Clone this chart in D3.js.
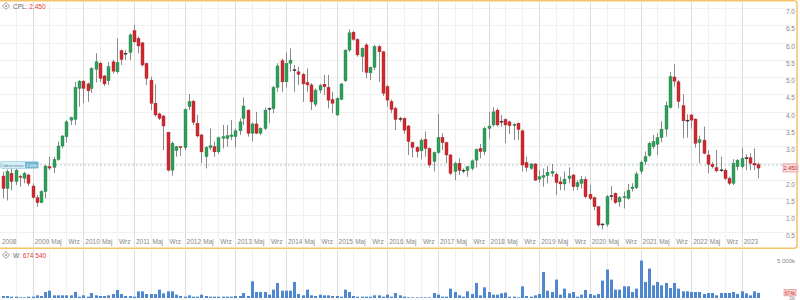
<!DOCTYPE html>
<html>
<head>
<meta charset="utf-8">
<script src="https://cdn.jsdelivr.net/npm/d3@7"></script>
<style>
  body { margin: 0; background: #fff; }
  svg { display: block; font-family: "Liberation Sans", Arial, sans-serif; }
</style>
</head>
<body>
<script>
const Width = 800;
const Height = 300;

// monthly candles, Jun 2008 .. May 2023
const startMonth = new Date(2008, 5, 1);
const opens = [2.13,1.77,2.21,1.97,2.12,2.06,2.16,1.84,1.50,1.36,1.68,2.40,2.38,2.61,3.00,3.27,3.75,3.77,4.67,4.88,
  4.80,4.67,5.22,5.40,5.03,4.89,5.44,5.15,5.76,5.68,5.71,6.34,6.12,5.99,5.39,4.91,4.24,3.93,3.87,3.40,
  2.30,2.87,2.98,2.95,4.14,4.30,3.66,3.32,2.69,2.95,2.98,2.83,3.22,3.22,3.27,3.27,3.44,3.80,4.04,3.37,
  3.64,3.37,3.51,4.08,4.08,4.70,5.47,4.86,5.40,5.20,5.15,5.08,4.84,4.77,4.21,4.62,4.79,4.70,4.35,3.90,
  4.35,4.89,5.78,6.30,6.09,5.59,5.93,5.12,5.28,5.88,5.73,4.72,4.29,4.09,3.80,3.80,3.58,3.10,2.96,2.86,
  3.19,2.93,2.55,2.81,3.25,3.10,2.74,2.26,2.50,2.29,2.29,2.35,2.59,2.93,2.84,3.51,3.61,4.04,3.72,3.77,
  3.70,3.59,3.66,3.44,2.52,2.35,2.48,2.04,2.09,2.14,2.21,2.18,1.96,1.90,2.06,2.16,1.82,1.92,2.03,1.60,
  1.50,1.24,0.73,0.73,1.55,1.63,1.38,1.50,1.48,1.76,1.79,2.27,2.55,2.72,2.98,3.05,3.24,3.49,4.11,5.00,
  4.86,4.17,3.74,3.90,3.78,3.10,3.17,2.74,2.47,2.37,2.30,2.30,2.06,1.92,2.40,2.40,2.65,2.66,2.50,2.46];
const highs = [2.25,2.32,2.35,2.35,2.16,2.25,2.19,1.92,1.58,1.72,2.45,2.69,2.69,3.13,3.32,3.75,3.85,4.86,4.91,4.91,
  4.84,5.28,5.69,5.44,5.06,5.44,5.49,6.12,5.80,5.78,6.27,6.51,6.17,6.02,5.42,5.01,4.79,3.97,3.90,3.41,
  3.13,3.00,3.00,4.09,4.51,4.33,3.90,3.35,3.00,3.51,3.13,3.27,3.61,3.61,3.75,3.51,3.80,4.41,4.06,3.68,
  3.99,3.54,4.12,4.12,4.74,5.40,5.54,5.71,5.83,5.35,5.30,5.12,5.25,4.82,4.67,4.80,5.06,5.06,4.57,4.41,
  4.82,5.80,6.38,6.34,6.12,5.86,5.98,5.30,5.93,5.93,5.76,4.77,4.35,4.14,3.85,3.83,3.61,3.13,3.00,3.22,
  3.42,2.96,2.84,3.93,3.37,3.13,2.77,2.55,2.64,2.35,2.42,2.61,2.93,3.06,3.56,3.99,4.12,4.09,3.90,3.80,
  3.73,3.66,3.68,3.48,2.69,2.50,2.50,2.30,2.35,2.42,2.48,2.23,2.11,2.26,2.38,2.18,2.01,2.13,2.11,1.87,
  1.53,1.26,0.76,1.58,1.84,1.65,1.55,1.68,1.90,1.92,2.26,2.57,2.84,3.13,3.32,3.37,3.72,4.29,5.15,5.37,
  4.91,4.50,3.92,3.92,3.80,3.30,3.56,2.88,2.53,2.88,2.69,2.35,2.11,2.62,2.62,2.95,2.76,2.79,2.93,2.52];
const lows = [1.48,1.42,1.72,1.87,1.82,1.92,1.84,1.48,1.24,1.34,1.48,2.30,2.21,2.57,2.93,3.10,3.61,3.61,4.14,4.24,
  4.28,4.54,4.84,4.86,4.74,4.77,5.10,5.10,5.35,5.49,5.49,5.98,5.69,5.30,4.77,4.04,3.85,3.75,2.88,2.26,
  2.14,2.69,2.71,2.88,4.04,3.61,3.25,2.50,2.35,2.88,2.69,2.77,2.93,2.98,3.17,2.96,3.32,3.61,3.27,3.13,
  3.35,3.32,3.46,3.66,3.95,4.57,4.57,4.70,5.15,4.57,4.77,4.28,4.57,4.04,4.14,4.53,4.48,4.09,3.95,3.87,
  4.33,4.86,5.73,6.05,5.59,5.15,4.96,4.91,5.20,4.86,4.45,4.14,3.95,3.46,3.70,3.35,2.74,2.67,2.67,2.61,
  2.69,2.38,2.26,2.77,2.88,2.50,2.16,2.01,2.16,2.21,2.11,2.29,2.38,2.64,2.74,3.22,3.56,3.56,3.56,3.08,
  3.35,3.17,3.17,2.26,2.26,2.31,1.99,1.94,1.82,1.92,2.11,1.58,1.72,1.71,1.92,1.71,1.72,1.77,1.48,1.43,
  1.14,0.66,0.58,0.66,1.43,1.32,1.24,1.19,1.45,1.68,1.75,2.18,2.45,2.69,2.91,2.74,3.11,3.27,4.09,4.72,
  4.09,3.22,3.24,3.51,2.95,2.50,2.76,2.21,2.35,2.24,2.25,2.01,1.87,1.87,2.30,2.35,2.30,2.30,2.30,2.06];
const closes = [1.77,2.26,1.97,2.30,2.10,2.21,1.92,1.51,1.36,1.68,2.42,2.36,2.61,3.00,3.29,3.70,3.82,4.70,4.88,4.67,
  4.60,5.25,5.44,4.96,4.80,5.30,5.17,5.42,5.51,5.69,6.22,6.02,5.90,5.35,4.96,4.24,3.90,3.80,3.58,2.30,
  3.08,2.98,2.95,4.06,4.29,3.69,3.29,2.83,2.96,3.01,2.83,3.24,3.27,3.30,3.32,3.44,3.70,4.16,3.37,3.64,
  3.37,3.51,4.04,4.09,4.70,5.32,4.86,5.40,5.49,5.21,5.08,4.80,4.77,4.28,4.62,4.75,4.72,4.33,4.24,4.38,
  4.80,5.78,6.28,6.09,5.64,5.83,5.13,5.28,5.88,5.73,4.53,4.33,4.06,3.77,3.79,3.46,3.13,2.96,2.84,3.17,
  2.93,2.45,2.81,3.25,3.10,2.74,2.21,2.50,2.29,2.30,2.40,2.57,2.90,2.84,3.51,3.58,3.99,3.61,3.71,3.61,
  3.59,3.63,3.48,2.45,2.38,2.48,2.01,2.11,2.14,2.24,2.26,1.94,1.90,2.04,2.13,1.82,1.94,2.03,1.53,1.48,
  1.24,0.71,0.74,1.53,1.56,1.36,1.51,1.53,1.72,1.81,2.19,2.53,2.69,3.08,3.13,3.24,3.49,4.17,5.01,4.88,
  4.29,3.73,3.75,3.75,3.08,3.18,2.79,2.47,2.40,2.28,2.31,2.06,1.92,2.50,2.59,2.64,2.66,2.50,2.45,2.36];
// volume in thousands
const volumes = [264,264,176,176,88,88,176,176,352,264,792,968,352,352,352,352,352,792,176,352,
  176,660,352,264,264,352,528,1056,528,264,264,176,880,880,528,528,528,1100,616,880,
  880,440,264,176,352,176,176,440,264,176,176,176,176,176,176,264,264,660,264,2200,
  792,792,792,440,1100,1980,968,968,968,2112,528,352,1100,352,264,440,352,352,264,264,
  176,1100,792,264,176,176,176,176,352,352,176,440,176,660,352,
  176,88,88,88,88,88,88,660,440,176,176,1232,792,352,176,880,528,1980,352,1408,
  792,440,440,616,704,176,176,88,1540,264,176,352,528,3432,968,792,2420,440,1232,616,
  792,176,440,1056,528,352,528,2288,3740,2420,1100,1100,1540,1540,792,1232,4928,2112,3872,1672,
  2112,1672,1980,1320,1980,1232,880,880,792,792,792,528,660,660,352,660,660,660,792,528,
  880,616,352,880,675];

const priceTicks = [0.5,1.0,1.5,2.0,3.0,3.5,4.0,4.5,5.0,5.5,6.0,6.5,7.0];
const gridTicks = [0.5,1.0,1.5,2.0,2.5,3.0,3.5,4.0,4.5,5.0,5.5,6.0,6.5,7.0];
const monthNames = {4: "Maj", 8: "Wrz"};
const lastPrice = 2.45;
const refPrice = 2.55;
const lastVolume = 674540;

const data = opens.map((o, i) => ({
  date: d3.timeMonth.offset(startMonth, i),
  open: o, high: highs[i], low: lows[i], close: closes[i], vol: volumes[i]
}));

const svg = d3.select('body').append('svg')
  .attr('width', Width).attr('height', Height);

const x = d3.scaleTime()
  .domain([data[0].date, data[data.length - 1].date])
  .range([3, 758.4]);

const y = d3.scaleLinear().domain([0.5, 7.0]).range([232.25, 8]);
const yv = d3.scaleLinear().domain([0, 5000]).range([298, 260]);

const gridDates = d3.timeMonth.every(4).range(new Date(2008, 8, 1), new Date(2023, 1, 1));

// horizontal grid
svg.append('g').selectAll('line').data(gridTicks).join('line')
  .attr('x1', 0).attr('x2', 797)
  .attr('y1', d => Math.round(y(d)) + 0.5).attr('y2', d => Math.round(y(d)) + 0.5)
  .attr('stroke', '#f1f1f1');

// vertical grid, main and volume panels
[[2, 247], [250, 299]].forEach(([y0, y1]) => {
  svg.append('g').selectAll('line').data(gridDates).join('line')
    .attr('x1', d => Math.round(x(d)) + 0.5).attr('x2', d => Math.round(x(d)) + 0.5)
    .attr('y1', y0).attr('y2', y1)
    .attr('stroke', d => d.getMonth() === 0 ? '#dcdcdc' : '#f0f0f0');
});

// reference dashed line
svg.append('line')
  .attr('x1', 40).attr('x2', 783)
  .attr('y1', y(lastPrice)).attr('y2', y(lastPrice))
  .attr('stroke', '#9ab7c4').attr('stroke-dasharray', '2,2').attr('stroke-width', 0.8);

// candles
const bw = 3;
const candle = svg.append('g').selectAll('g').data(data).join('g');
const colorOf = d => Math.abs(d.close - d.open) < 0.02 ? '#333' : (d.close >= d.open ? '#2f9e5c' : '#d0282e');
candle.append('line')
  .attr('x1', d => Math.round(x(d.date)) + 0.5).attr('x2', d => Math.round(x(d.date)) + 0.5)
  .attr('y1', d => y(d.high)).attr('y2', d => y(d.low))
  .attr('stroke', '#8a8a8a').attr('stroke-width', 1);
candle.append('rect')
  .attr('x', d => Math.round(x(d.date)) - 1)
  .attr('width', bw)
  .attr('y', d => y(Math.max(d.open, d.close)))
  .attr('height', d => Math.max(1, Math.abs(y(d.open) - y(d.close))))
  .attr('fill', colorOf)
  .attr('stroke', d => d3.color(colorOf(d)).darker(0.6)).attr('stroke-width', 0.4);

// volume bars
svg.append('g').selectAll('rect').data(data).join('rect')
  .attr('x', d => Math.round(x(d.date)) - 1)
  .attr('width', 3)
  .attr('y', d => yv(d.vol))
  .attr('height', d => yv(0) - yv(d.vol))
  .attr('fill', '#5088d0');

// main panel frame
svg.append('rect')
  .attr('x', -3).attr('y', 0.75).attr('width', 800).attr('height', 247.5)
  .attr('rx', 3).attr('fill', 'none')
  .attr('stroke', '#f4c36a').attr('stroke-width', 1.5);

// price axis labels
svg.append('g').selectAll('text').data(priceTicks).join('text')
  .attr('x', 795).attr('y', d => y(d) + 6)
  .attr('text-anchor', 'end').attr('font-size', 6.5).attr('fill', '#888')
  .text(d => d.toFixed(1));

// time axis labels (Sep 2008 is left unlabelled, as in the original)
const xLabels = svg.append('g').attr('font-size', 6.5).attr('fill', '#888');
xLabels.append('text').attr('x', 2).attr('y', 244).text('2008');
xLabels.selectAll('text.t').data(gridDates.slice(1)).join('text')
  .attr('class', 't')
  .attr('x', d => x(d) + 2).attr('y', 244)
  .text(d => d.getMonth() === 0 ? d.getFullYear() : monthNames[d.getMonth()]);

// last price box on the right
svg.append('rect')
  .attr('x', 783).attr('y', y(lastPrice) - 1).attr('width', 15).attr('height', 8)
  .attr('fill', '#f9dcdc').attr('stroke', '#e08080').attr('stroke-width', 0.6);
svg.append('text')
  .attr('x', 790.5).attr('y', y(lastPrice) + 5.2).attr('text-anchor', 'middle')
  .attr('font-size', 5.5).attr('fill', '#c62828').text(lastPrice.toFixed(3));

// reference label on the left
svg.append('rect')
  .attr('x', 0.5).attr('y', y(lastPrice) - 3.5).attr('width', 38).attr('height', 7).attr('rx', 1.5)
  .attr('fill', '#d8eef6').attr('stroke', '#8cc4da').attr('stroke-width', 0.6);
svg.append('rect')
  .attr('x', 25).attr('y', y(lastPrice) - 3).attr('width', 13).attr('height', 6)
  .attr('fill', '#6fb7d2');
svg.append('text')
  .attr('x', 1.5).attr('y', y(lastPrice) + 1.8).attr('font-size', 4.2).attr('fill', '#4a8aa3').text('Odniesienie');
svg.append('text')
  .attr('x', 31.5).attr('y', y(lastPrice) + 1.8).attr('text-anchor', 'middle')
  .attr('font-size', 4.2).attr('fill', '#fff').text(refPrice.toFixed(3));

// header labels
const icon = (cx, cy) => {
  svg.append('path')
    .attr('d', `M${cx},${cy - 3.5}L${cx + 3.5},${cy}L${cx},${cy + 3.5}L${cx - 3.5},${cy}Z`)
    .attr('fill', 'none').attr('stroke', '#999').attr('stroke-width', 1);
  svg.append('circle').attr('cx', cx).attr('cy', cy).attr('r', 1).attr('fill', '#999');
};
icon(6, 6);
icon(6, 255);
const h1 = svg.append('text').attr('x', 13).attr('y', 8.5).attr('font-size', 6.5);
h1.append('tspan').attr('fill', '#666').text('CPL: ');
h1.append('tspan').attr('fill', '#e53935').text(lastPrice.toFixed(3));
const h2 = svg.append('text').attr('x', 13).attr('y', 257.5).attr('font-size', 6.5);
h2.append('tspan').attr('fill', '#666').text('W: ');
h2.append('tspan').attr('fill', '#e53935').text(d3.format(',')(lastVolume).replace(/,/g, ' '));

// volume axis labels
svg.append('text').attr('x', 795).attr('y', 262.5).attr('text-anchor', 'end')
  .attr('font-size', 6).attr('fill', '#888').text('5 000k');
svg.append('text').attr('x', 795).attr('y', 299.5).attr('text-anchor', 'end')
  .attr('font-size', 5.5).attr('fill', '#888').text('0k');
svg.append('rect')
  .attr('x', 784).attr('y', yv(674.54) - 3.5).attr('width', 12).attr('height', 6.5)
  .attr('fill', '#f9dcdc').attr('stroke', '#e08080').attr('stroke-width', 0.6);
svg.append('text')
  .attr('x', 790).attr('y', yv(674.54) + 1.7).attr('text-anchor', 'middle')
  .attr('font-size', 4.6).attr('fill', '#c62828').text('674k');
</script>
</body>
</html>
